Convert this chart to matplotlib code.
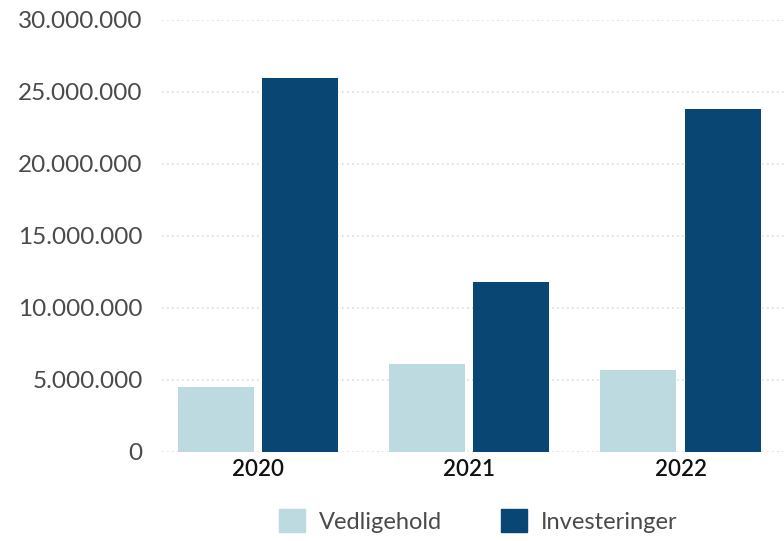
import numpy as np
import matplotlib

matplotlib.use("Agg")
import matplotlib.pyplot as plt
from matplotlib.patches import Patch

plt.rcParams["font.family"] = ["Lato", "DejaVu Sans"]

YEARS = ["2020", "2021", "2022"]
VEDLIGEHOLD = [4.5e6, 6.1e6, 5.7e6]
INVESTERINGER = [26.0e6, 11.8e6, 23.8e6]
SERIES = ["Vedligehold", "Investeringer"]
COLORS = ["#bcdae0", "#0a4674"]
YTICKS = [0, 5e6, 10e6, 15e6, 20e6, 25e6, 30e6]


def fmt(v):
    return f"{int(v):,}".replace(",", ".")


fig = plt.figure(figsize=(7.84, 5.41), dpi=100)
ax = fig.add_axes([162 / 784, 1 - 452 / 541, 1 - 162 / 784, (452 - 20) / 541])

x = np.arange(len(YEARS))
w = 0.36
off = 0.199
ax.bar(x - off, VEDLIGEHOLD, w, color=COLORS[0], zorder=3)
ax.bar(x + off, INVESTERINGER, w, color=COLORS[1], zorder=3)

ax.set_xlim(-0.455, 2.49)
ax.set_ylim(0, 30e6)
ax.set_yticks(YTICKS)
ax.set_yticklabels([fmt(v) for v in YTICKS], fontsize=17.5, color="#4a4a4a",
                   fontweight="normal")
ax.set_xticks(x)
ax.set_xticklabels(YEARS, fontsize=16, color="#111111", fontweight="semibold")
ax.tick_params(axis="both", length=0)
ax.tick_params(axis="y", pad=14)
ax.tick_params(axis="x", pad=5)
for s in ax.spines.values():
    s.set_visible(False)
ax.yaxis.grid(True, color="#dddddd", ls=(0, (1, 2)), lw=1.2, zorder=0)

handles = [Patch(color=c, label=l) for c, l in zip(COLORS, SERIES)]
leg = fig.legend(handles=handles, loc="center", bbox_to_anchor=(0.61, 1 - 521 / 541),
                 ncol=2, frameon=False, fontsize=17, handlelength=1.1, handleheight=1.1,
                 handletextpad=0.6, columnspacing=2.5)
for t in leg.get_texts():
    t.set_color("#4a4a4a")

fig.savefig("out.png", dpi=100)
